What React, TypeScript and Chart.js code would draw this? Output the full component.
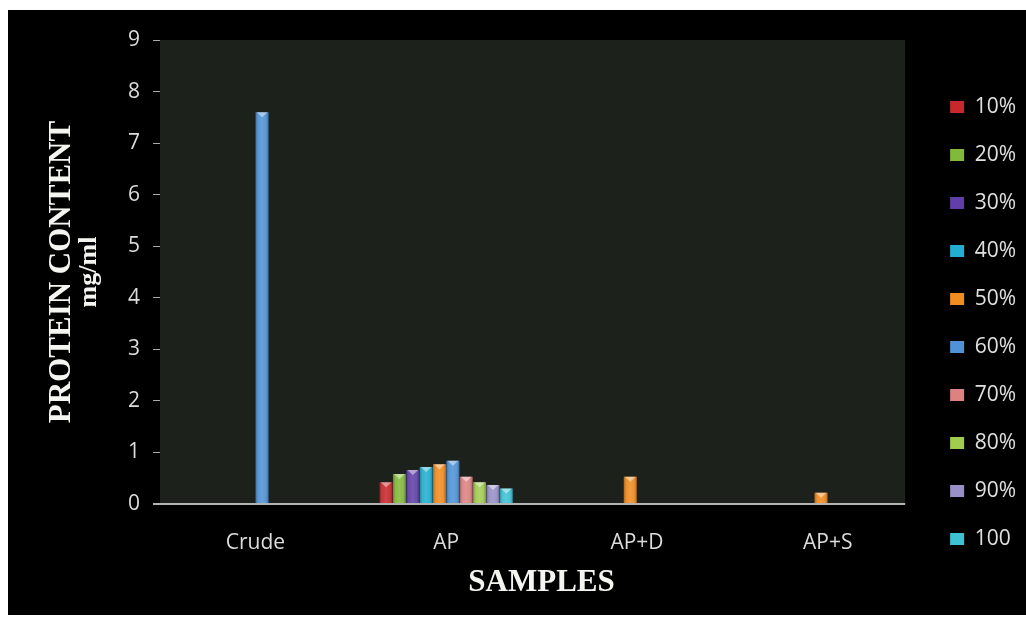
import React, { useEffect, useRef } from "react";
import { Chart, registerables } from "chart.js";

Chart.register(...registerables);

// Sample groups along the x axis
const categories = ["Crude", "AP", "AP+D", "AP+S"];

// Saturation fractions (legend entries)
const seriesLabels = ["10%", "20%", "30%", "40%", "50%", "60%", "70%", "80%", "90%", "100"];

// Protein content (mg/ml) per fraction, one array per sample group
const crudeValues = [null, null, null, null, null, 7.6, null, null, null, null];
const apValues = [0.42, 0.58, 0.66, 0.72, 0.77, 0.84, 0.53, 0.42, 0.37, 0.3];
const apDValues = [null, null, null, null, 0.53, null, null, null, null, null];
const apSValues = [null, null, null, null, 0.22, null, null, null, null, null];

const yTicks = [0, 1, 2, 3, 4, 5, 6, 7, 8, 9];

const seriesColors = [
  "#c8282c",
  "#82b93a",
  "#6040a8",
  "#22aed0",
  "#f08c20",
  "#4f92d6",
  "#dc8280",
  "#a0cc50",
  "#9890c6",
  "#3cc2d4",
];

const PLOT_BG = "#1d211c";
const PLOT_INSET_RIGHT = 18;

// Dark plot panel behind the bars and the light baseline on top of them
const plotBackground = {
  id: "plotBackground",
  beforeDatasetsDraw(chart: any) {
    const { ctx, chartArea } = chart;
    ctx.save();
    ctx.fillStyle = PLOT_BG;
    ctx.fillRect(
      chartArea.left,
      chartArea.top,
      chartArea.right - PLOT_INSET_RIGHT - chartArea.left,
      chartArea.bottom - chartArea.top
    );
    ctx.restore();
  },
  afterDatasetsDraw(chart: any) {
    const { ctx, chartArea } = chart;
    ctx.save();
    // bevel shading on every bar
    chart.data.datasets.forEach((_: any, di: number) => {
      const meta = chart.getDatasetMeta(di);
      meta.data.forEach((bar: any) => {
        if (bar.skip || bar.base == null || isNaN(bar.y)) return;
        const left = bar.x - bar.width / 2;
        const right = bar.x + bar.width / 2;
        const top = Math.min(bar.y, bar.base);
        const h = Math.abs(bar.base - bar.y);
        if (h < 1) return;
        const g = ctx.createLinearGradient(left, 0, right, 0);
        g.addColorStop(0, "rgba(0,0,0,0.28)");
        g.addColorStop(0.3, "rgba(255,255,255,0.08)");
        g.addColorStop(0.5, "rgba(255,255,255,0.14)");
        g.addColorStop(0.7, "rgba(255,255,255,0.08)");
        g.addColorStop(1, "rgba(0,0,0,0.28)");
        ctx.fillStyle = g;
        ctx.fillRect(left, top, right - left, h);
        const cap = Math.min(5, h / 2);
        ctx.fillStyle = "rgba(255,255,255,0.45)";
        ctx.beginPath();
        ctx.moveTo(left + 1, top);
        ctx.lineTo(right - 1, top);
        ctx.lineTo(bar.x, top + cap);
        ctx.closePath();
        ctx.fill();
      });
    });
    ctx.strokeStyle = "#b4b4b4";
    ctx.lineWidth = 2;
    ctx.beginPath();
    ctx.moveTo(chartArea.left - 7, chartArea.bottom);
    ctx.lineTo(chartArea.right - PLOT_INSET_RIGHT, chartArea.bottom);
    ctx.stroke();
    ctx.restore();
  },
};

const serifBold = (size: number) => ({
  family: "'Liberation Serif', 'Times New Roman', serif",
  size,
  weight: "bold" as const,
  lineHeight: 1,
});

export default function App() {
  const canvasRef = useRef<HTMLCanvasElement | null>(null);

  useEffect(() => {
    document.body.style.margin = "10px 0 0 8px";
    document.body.style.overflow = "hidden";
    const canvas = canvasRef.current;
    if (!canvas) return;

    const datasets = seriesLabels.map((label, i) => ({
      label,
      data: [crudeValues[i], apValues[i], apDValues[i], apSValues[i]],
      backgroundColor: seriesColors[i],
      borderWidth: 0,
      categoryPercentage: 0.7,
      barPercentage: 0.97,
    }));

    const chart = new Chart(canvas, {
      type: "bar",
      data: { labels: categories, datasets },
      plugins: [plotBackground],
      options: {
        animation: false,
        responsive: true,
        maintainAspectRatio: false,
        layout: { padding: { top: 30, bottom: 9, left: 0, right: 0 } },
        plugins: {
          tooltip: { enabled: false },
          legend: {
            position: "right",
            labels: {
              color: "#e0e0e0",
              font: { family: "'Open Sans', sans-serif", size: 21 },
              boxWidth: 14,
              boxHeight: 12,
              padding: 27,
            },
          },
        },
        scales: {
          x: {
            grid: { display: false, drawTicks: false },
            border: { display: false },
            ticks: {
              color: "#dcdcdc",
              font: { family: "'Open Sans', sans-serif", size: 21 },
              padding: 26,
            },
            title: {
              display: true,
              text: "SAMPLES",
              color: "#f4f4f0",
              font: serifBold(31),
              padding: { top: 0, bottom: 8 },
            },
            afterFit: (scale: any) => {
              scale.height = 102;
            },
          },
          y: {
            min: 0,
            max: 9,
            weight: 0,
            afterBuildTicks: (scale: any) => {
              scale.ticks = yTicks.map((v) => ({ value: v }));
            },
            grid: {
              drawOnChartArea: false,
              drawTicks: true,
              tickLength: 7,
              color: "#a8a8a8",
            },
            border: { display: false },
            ticks: {
              color: "#dcdcdc",
              font: { family: "'Open Sans', sans-serif", size: 21 },
              padding: 13,
            },
            title: {
              display: true,
              text: "mg/ml",
              color: "#f4f4f0",
              font: serifBold(26),
              padding: { top: 0, bottom: 0 },
            },
            afterFit: (scale: any) => {
              scale.width = 84;
            },
          },
          yTitle: {
            type: "linear",
            position: "left",
            min: 0,
            max: 9,
            weight: 1,
            grid: { display: false, drawTicks: false },
            border: { display: false },
            ticks: { display: false },
            title: {
              display: true,
              text: "PROTEIN CONTENT",
              color: "#f4f4f0",
              font: serifBold(31),
              padding: { top: 38, bottom: 0 },
            },
            afterFit: (scale: any) => {
              scale.width = 68;
            },
          },
        },
      },
    });

    return () => chart.destroy();
  }, []);

  return (
    <div style={{ width: 1018, height: 605, background: "#000", position: "relative" }}>
      <canvas ref={canvasRef} />
    </div>
  );
}
